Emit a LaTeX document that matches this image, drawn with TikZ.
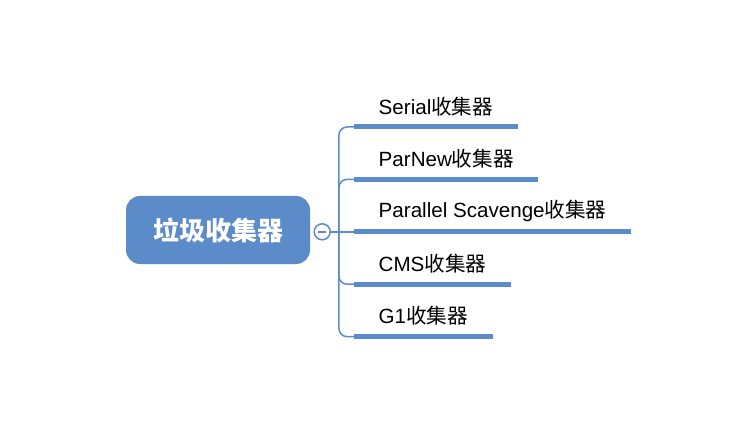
\documentclass[tikz,border=0pt]{standalone}
\usepackage{fontspec}
\setmainfont{Liberation Sans}
\newfontfamily\cjk{Noto Sans CJK SC}
\usetikzlibrary{positioning}
\definecolor{mapblue}{RGB}{92,139,201}

\tikzset{
    root/.style={fill=mapblue, rounded corners=14pt, minimum width=184pt, minimum height=68pt,
        text=white, font=\cjk\bfseries\fontsize{26}{30}\selectfont},
    fold/.style={circle, draw=mapblue, line width=1.5pt, fill=white, minimum size=16pt, inner sep=0pt,
        path picture={\draw[mapblue, line width=1.5pt]
            ([xshift=-4pt]path picture bounding box.center) -- ([xshift=4pt]path picture bounding box.center);}},
    leaf/.style={inner xsep=24.5pt, inner ysep=0pt, minimum height=41pt, font=\fontsize{20.6}{24}\selectfont},
    branch/.style={draw=mapblue, line width=1.5pt, rounded corners=8pt},
    underline/.style={draw=mapblue, line width=5pt}
}

\begin{document}
\begin{tikzpicture}[x=1pt, y=-1pt]
    \useasboundingbox (0,0) rectangle (738,438);

    \node[root] (gc) at (218,230) {垃圾收集器};

    \node[leaf, anchor=south west] (s1) at (354,127) {Serial{\cjk 收集器}};
    \node[leaf, below=11pt of s1.south west, anchor=north west] (s2) {ParNew{\cjk 收集器}};
    \node[leaf, below=11pt of s2.south west, anchor=north west] (s3) {Parallel Scavenge{\cjk 收集器}};
    \node[leaf, below=11pt of s3.south west, anchor=north west] (s4) {CMS{\cjk 收集器}};
    \node[leaf, below=11pt of s4.south west, anchor=north west] (s5) {G1{\cjk 收集器}};

    \node[fold, xshift=12pt] (f) at (s3.south west -| gc.east) {};
    \coordinate[right=8pt of f.east] (hub);

    \draw[branch] (f.east) -- (s3.south west);
    \foreach \n in {s1,s2,s4,s5}
        \draw[branch] (hub) |- (\n.south west);
    \foreach \n in {s1,s2,s3,s4,s5}
        \draw[underline] (\n.south west) -- (\n.south east);
\end{tikzpicture}
\end{document}
